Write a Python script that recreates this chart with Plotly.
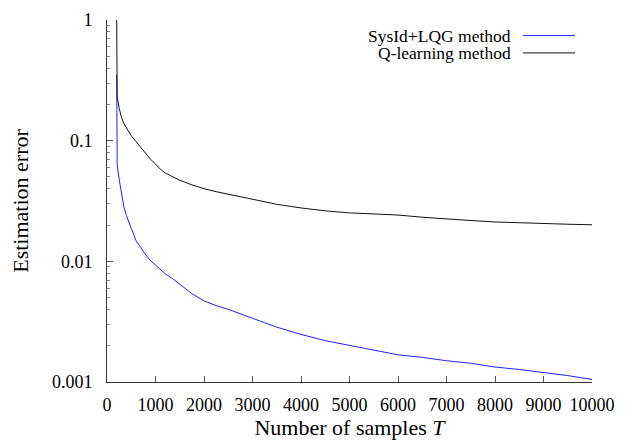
import plotly.graph_objects as go

# sample counts
samples = [200, 210, 250, 300, 350, 400, 450, 500, 600, 700, 800, 900, 1000,
           1100, 1200, 1350, 1500, 1750, 2000, 2250, 2500, 2750, 3000, 3250,
           3500, 4000, 4500, 5000, 5500, 6000, 6500, 7000, 7500, 8000, 8500,
           9000, 9500, 10000]

# SysId+LQG method
sysid_err = [0.35, 0.063, 0.048, 0.035, 0.028, 0.024, 0.0208, 0.0188, 0.0148,
             0.0128, 0.0113, 0.0101, 0.0093, 0.0085, 0.0079, 0.0072, 0.0065,
             0.0054, 0.0047, 0.0043, 0.0040, 0.00368, 0.00342, 0.0031, 0.00285,
             0.00248, 0.0022, 0.00202, 0.00185, 0.00168, 0.0016, 0.0015,
             0.00143, 0.00133, 0.00127, 0.0012, 0.00113, 0.00105]

# Q-learning method
qlearn_err = [1.0, 0.23, 0.186, 0.155, 0.138, 0.127, 0.118, 0.110, 0.098,
              0.087, 0.078, 0.070, 0.064, 0.058, 0.054, 0.050, 0.047, 0.043,
              0.040, 0.0378, 0.036, 0.0345, 0.0325, 0.031, 0.0297, 0.0277,
              0.0262, 0.0252, 0.0247, 0.0242, 0.0232, 0.0224, 0.0218, 0.0212,
              0.0208, 0.0205, 0.0203, 0.0201]

y_ticks = [0.001, 0.01, 0.1, 1]
y_ticktext = ["0.001", "0.01", "0.1", "1"]
y_minor = [m * d for d in (0.001, 0.01, 0.1) for m in range(2, 10)]
x_ticks = [0, 1000, 2000, 3000, 4000, 5000, 6000, 7000, 8000, 9000, 10000]
x_ticktext = [str(v) for v in x_ticks]

font_family = "Liberation Serif"
blue = "#2020ff"
black = "#111111"

fig = go.Figure()
fig.add_trace(go.Scatter(x=samples, y=sysid_err, mode="lines",
                         name="SysId+LQG method",
                         line=dict(color=blue, width=1), showlegend=False))
fig.add_trace(go.Scatter(x=samples, y=qlearn_err, mode="lines",
                         name="Q-learning method",
                         line=dict(color=black, width=1), showlegend=False))

# legend drawn by hand: text on the left, line sample on the right
legend_rows = [("SysId+LQG method", blue, 0.957), ("Q-learning method", black, 0.909)]
for label, col, yy in legend_rows:
    fig.add_annotation(x=0.835, y=yy, xref="paper", yref="paper", text=label,
                       showarrow=False, xanchor="right", yanchor="middle",
                       borderpad=0,
                       font=dict(family=font_family, size=17.5, color="black"))
    fig.add_shape(type="line", xref="paper", yref="paper",
                  x0=0.858, x1=0.965, y0=yy, y1=yy,
                  line=dict(color=col, width=1))

# page body adds 8px offset, so the figure is 8px smaller and margins shifted
fig.update_layout(
    width=626, height=436,
    margin=dict(l=99, r=42, t=12, b=62, autoexpand=False),
    plot_bgcolor="white", paper_bgcolor="white",
    font=dict(family=font_family, size=18, color="black"),
)
fig.update_xaxes(
    range=[0, 10000], tickvals=x_ticks, ticktext=x_ticktext,
    ticks="inside", ticklen=6, ticklabelstandoff=6,
    showline=True, linecolor="#333333", linewidth=1, tickcolor="#555555",
    showgrid=False, zeroline=False, mirror=False, automargin=False,
    title=dict(text="Number of samples <i>T</i>", standoff=6),
)
fig.update_yaxes(
    type="log", range=[-3, 0], tickvals=y_ticks, ticktext=y_ticktext,
    ticks="inside", ticklen=6, ticklabelstandoff=10,
    showline=True, linecolor="#333333", linewidth=1,
    tickcolor="#555555", showgrid=False, zeroline=False, mirror=False,
    automargin=False,
    minor=dict(tickvals=y_minor, ticks="inside", ticklen=3,
               tickcolor="#888888", showgrid=False),
    title=dict(text="Estimation error", standoff=20),
)

fig.write_html("out.html")
